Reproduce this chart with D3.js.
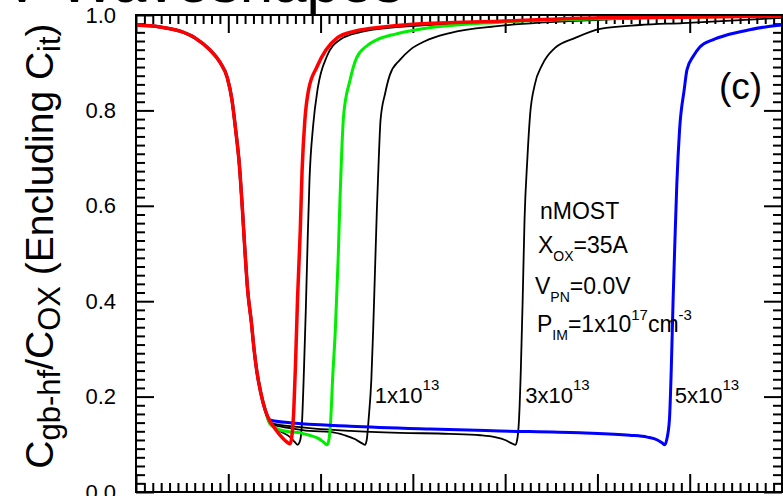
<!DOCTYPE html>
<html>
<head>
<meta charset="utf-8">
<script src="https://cdn.jsdelivr.net/npm/d3@7"></script>
<style>
    body { margin: 0; background: #fff; }
    svg text { font-family: Arial, "Liberation Sans", sans-serif; fill: #000; }
</style>
</head>
<body>
<svg id="chart"></svg>
<script>
// accumulation -> depletion branch, all curves sit on top of each other here
var vCommon = [-3.00, -2.74, -2.52, -2.36, -2.20, -2.09, -2.01, -1.96, -1.92, -1.88, -1.85, -1.82, -1.79, -1.75, -1.72, -1.69, -1.65, -1.60];
var cCommon = [0.979, 0.975, 0.966, 0.952, 0.927, 0.901, 0.868, 0.822, 0.759, 0.686, 0.602, 0.507, 0.423, 0.356, 0.298, 0.252, 0.210, 0.172];

// the separate tails (inversion dip + recovery)
var vRed = [-1.55, -1.49, -1.44, -1.39, -1.33, -1.31, -1.29, -1.27, -1.25, -1.22, -1.20, -1.17, -1.13, -1.04, -0.94, -0.82, -0.63, -0.32, 0.04, 0.94, 2.03, 3.11, 4.00];
var cRed = [0.149, 0.132, 0.119, 0.109, 0.101, 0.119, 0.172, 0.277, 0.403, 0.549, 0.675, 0.780, 0.843, 0.891, 0.927, 0.952, 0.966, 0.975, 0.981, 0.987, 0.994, 0.996, 0.998];

var vBlack1 = [-1.55, -1.44, -1.33, -1.28, -1.25, -1.22, -1.20, -1.18, -1.16, -1.14, -1.12, -1.08, -1.03, -0.93, -0.79, -0.57, -0.14, 0.40, 0.94, 2.03, 4.00];
var cBlack1 = [0.147, 0.128, 0.115, 0.105, 0.099, 0.109, 0.151, 0.256, 0.382, 0.528, 0.654, 0.769, 0.847, 0.914, 0.948, 0.964, 0.975, 0.981, 0.985, 0.994, 0.998];

var vGreen = [-1.55, -1.44, -1.33, -1.22, -1.12, -1.03, -0.97, -0.93, -0.91, -0.89, -0.87, -0.84, -0.81, -0.79, -0.77, -0.75, -0.68, -0.61, -0.50, -0.39, -0.19, 0.04, 0.94, 2.03, 4.00];
var cGreen = [0.143, 0.130, 0.126, 0.124, 0.119, 0.113, 0.105, 0.099, 0.109, 0.151, 0.235, 0.340, 0.486, 0.612, 0.717, 0.790, 0.864, 0.910, 0.935, 0.948, 0.960, 0.969, 0.985, 0.992, 0.998];

var v1e13 = [-1.55, -1.33, -1.12, -0.90, -0.74, -0.63, -0.56, -0.52, -0.50, -0.48, -0.45, -0.43, -0.41, -0.39, -0.37, -0.35, -0.30, -0.25, -0.14, -0.03, 0.13, 0.40, 0.94, 2.03, 3.11, 4.00];
var c1e13 = [0.143, 0.134, 0.128, 0.126, 0.119, 0.111, 0.103, 0.099, 0.109, 0.151, 0.235, 0.340, 0.465, 0.591, 0.696, 0.780, 0.836, 0.874, 0.906, 0.927, 0.945, 0.962, 0.977, 0.990, 0.996, 0.998];

var v3e13 = [-1.55, -1.22, -0.68, -0.14, 0.40, 0.73, 0.89, 1.00, 1.06, 1.11, 1.13, 1.15, 1.17, 1.19, 1.21, 1.24, 1.27, 1.32, 1.40, 1.54, 1.76, 2.03, 2.46, 2.93, 4.00];
var c3e13 = [0.145, 0.136, 0.128, 0.124, 0.122, 0.119, 0.115, 0.109, 0.103, 0.099, 0.109, 0.151, 0.256, 0.403, 0.570, 0.696, 0.790, 0.853, 0.895, 0.931, 0.952, 0.971, 0.979, 0.983, 0.994];

var v5e13 = [-1.55, -1.33, -0.68, 0.19, 0.94, 1.81, 2.35, 2.54, 2.65, 2.70, 2.73, 2.75, 2.78, 2.80, 2.82, 2.84, 2.86, 2.89, 2.94, 2.97, 3.04, 3.11, 3.25, 3.40, 3.65, 3.82, 4.00];
var c5e13 = [0.151, 0.145, 0.138, 0.132, 0.128, 0.124, 0.119, 0.115, 0.109, 0.103, 0.099, 0.109, 0.151, 0.256, 0.403, 0.528, 0.644, 0.759, 0.843, 0.885, 0.914, 0.933, 0.948, 0.958, 0.969, 0.975, 0.979];

var yTickLabels = ["0.0", "0.2", "0.4", "0.6", "0.8", "1.0"];
var curveLabels = ["1x10", "3x10", "5x10"];
var curveLabelExp = "13";

drawChart();

function drawChart() {
    var W = 783, H = 496;
    var left = 136, right = 782, top = 15, bottom = 492;

    var svg = d3.select("#chart").attr("width", W).attr("height", H);

    var x = d3.scaleLinear().domain([-3, 4]).range([left, right]);
    var y = d3.scaleLinear().domain([0, 1]).range([bottom, top]);

    function zipSeries(vs, cs) {
        var pts = vCommon.map(function (v, i) { return { v: v, c: cCommon[i] }; });
        return pts.concat(vs.map(function (v, i) { return { v: v, c: cs[i] }; }));
    }

    var series = [
        { pts: zipSeries(vBlack1, cBlack1), color: "#000", w: 1.8 },
        { pts: zipSeries(v1e13, c1e13), color: "#000", w: 1.8, label: 0 },
        { pts: zipSeries(v3e13, c3e13), color: "#000", w: 1.8, label: 1 },
        { pts: zipSeries(vGreen, cGreen), color: "#00ee00", w: 3 },
        { pts: zipSeries(v5e13, c5e13), color: "#0000ff", w: 3, label: 2 },
        { pts: zipSeries(vRed, cRed), color: "#ff0000", w: 3.5 }
    ];

    // title, mostly cut off at the top edge
    svg.append("text")
        .attr("x", 2).attr("y", 2)
        .style("font-size", "60px")
        .text("V Waveshapes");

    svg.append("clipPath").attr("id", "plotClip")
        .append("rect")
        .attr("x", left).attr("y", top)
        .attr("width", right - left).attr("height", bottom - top);

    // ---------------- ticks (all inward, on 4 sides)
    var xMajor = d3.range(-3, 4.001, 1);
    var xMinor = d3.range(0, 78).filter(function (i) { return i % 11 !== 0; })
        .map(function (i) { return -3 + i / 11; });
    var yMajor = yTickLabels.map(function (t) { return +t; });
    var yMinor = d3.range(0, 56).filter(function (i) { return i % 11 !== 0; })
        .map(function (i) { return i * 0.2 / 11; });

    function tickAxis(axisFn, scale, values, size, tr) {
        svg.append("g")
            .attr("transform", tr)
            .call(axisFn(scale).tickValues(values).tickSizeInner(-size).tickSizeOuter(0).tickFormat(""))
            .call(function (g) { g.select(".domain").remove(); })
            .selectAll("line").attr("stroke", "#000").attr("stroke-width", 2);
    }

    tickAxis(d3.axisBottom, x, xMajor, 18, "translate(0," + bottom + ")");
    tickAxis(d3.axisBottom, x, xMinor, 9, "translate(0," + bottom + ")");
    tickAxis(d3.axisTop, x, xMajor, 18, "translate(0," + top + ")");
    tickAxis(d3.axisTop, x, xMinor, 9, "translate(0," + top + ")");
    tickAxis(d3.axisRight, y, yMajor, 18, "translate(" + right + ",0)");
    tickAxis(d3.axisRight, y, yMinor, 9, "translate(" + right + ",0)");
    tickAxis(d3.axisLeft, y, yMinor, 9, "translate(" + left + ",0)");

    var yAxis = svg.append("g")
        .attr("transform", "translate(" + left + ",0)")
        .call(d3.axisLeft(y).tickValues(yMajor).tickSizeInner(-18).tickSizeOuter(0).tickPadding(20)
            .tickFormat(function (d, i) { return yTickLabels[i]; }));
    yAxis.select(".domain").remove();
    yAxis.selectAll("line").attr("stroke", "#000").attr("stroke-width", 2);
    yAxis.selectAll("text").style("font-size", "22px").attr("fill", "#000")
        .style("font-family", "Arial, 'Liberation Sans', sans-serif");

    // ---------------- curves
    var line = d3.line()
        .x(function (d) { return x(d.v); })
        .y(function (d) { return y(d.c); })
        .curve(d3.curveMonotoneX);

    svg.append("g").attr("clip-path", "url(#plotClip)")
        .selectAll("path")
        .data(series)
        .enter().append("path")
        .attr("d", function (d) { return line(d.pts); })
        .attr("fill", "none")
        .attr("stroke", function (d) { return d.color; })
        .attr("stroke-width", function (d) { return d.w; })
        .attr("stroke-linejoin", "round");

    // frame
    svg.append("rect")
        .attr("x", left).attr("y", top)
        .attr("width", right - left).attr("height", bottom - top)
        .attr("fill", "none").attr("stroke", "#000").attr("stroke-width", 2);

    // ---------------- trap density labels next to each dip
    series.filter(function (s) { return s.label !== undefined; }).forEach(function (s) {
        var dip = s.pts.reduce(function (a, b) { return b.c < a.c ? b : a; });
        var t = svg.append("text")
            .attr("x", x(dip.v) + 10)
            .attr("y", y(0.187))
            .style("font-size", "22px");
        t.append("tspan").text(curveLabels[s.label]);
        t.append("tspan").attr("dy", -13).style("font-size", "15px").text(curveLabelExp);
    });

    // ---------------- device parameters
    var ax = 538;
    svg.append("text").attr("x", ax + 2).attr("y", 219).style("font-size", "23px").text("nMOST");

    var t2 = svg.append("text").attr("x", ax).attr("y", 253).style("font-size", "23px");
    t2.append("tspan").text("X");
    t2.append("tspan").attr("dy", 8).style("font-size", "14px").text("OX");
    t2.append("tspan").attr("dy", -8).text("=35A");

    var t3 = svg.append("text").attr("x", ax - 3).attr("y", 294).style("font-size", "23px");
    t3.append("tspan").text("V");
    t3.append("tspan").attr("dy", 8).style("font-size", "14px").text("PN");
    t3.append("tspan").attr("dy", -8).text("=0.0V");

    var t4 = svg.append("text").attr("x", ax - 1).attr("y", 332).style("font-size", "23px");
    t4.append("tspan").text("P");
    t4.append("tspan").attr("dy", 8).style("font-size", "14px").text("IM");
    t4.append("tspan").attr("dy", -8).text("=1x10");
    t4.append("tspan").attr("dy", -12).style("font-size", "15px").text("17");
    t4.append("tspan").attr("dy", 12).text("cm");
    t4.append("tspan").attr("dy", -12).style("font-size", "15px").text("-3");

    svg.append("text").attr("x", 719).attr("y", 99).style("font-size", "37px").text("(c)");

    // ---------------- y axis title
    var yl = svg.append("text")
        .attr("transform", "translate(53,246) rotate(-90)")
        .style("font-size", "39px")
        .attr("text-anchor", "middle");
    yl.append("tspan").text("C");
    yl.append("tspan").attr("dy", 7).style("font-size", "31px").text("gb-hf");
    yl.append("tspan").attr("dy", -7).text("/C");
    yl.append("tspan").attr("dy", 7).style("font-size", "31px").text("OX");
    yl.append("tspan").attr("dy", -7).text(" (Encluding C");
    yl.append("tspan").attr("dy", 7).style("font-size", "31px").text("it");
    yl.append("tspan").attr("dy", -7).text(")");
}
</script>
</body>
</html>
